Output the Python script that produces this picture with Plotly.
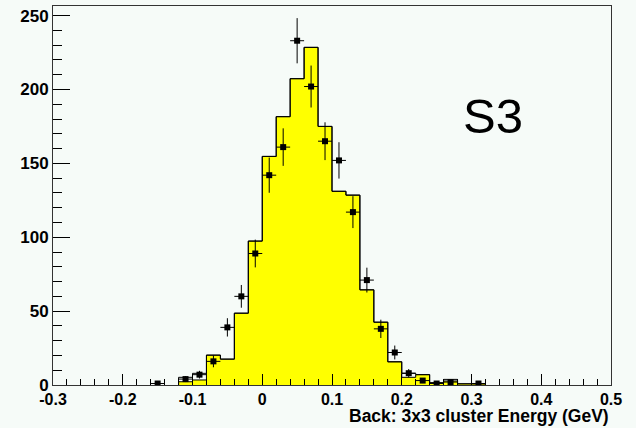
import plotly.graph_objects as go

# ---- data -------------------------------------------------------------
bin_edges = [-0.12, -0.10, -0.08, -0.06, -0.04, -0.02, 0.00, 0.02, 0.04, 0.06, 0.08,
             0.10, 0.12, 0.14, 0.16, 0.18, 0.20, 0.22, 0.24, 0.26, 0.28, 0.30, 0.32]
mc_yellow = [2.2, 3.4, 20.2, 17.5, 48.6, 97.4, 154.7, 181.6, 207.3, 228.5, 175.0,
             131.1, 128.5, 64.4, 42.5, 15.7, 5.2, 7.0, 1.5, 2.7, 0.8, 0.8]
mc_total = [5.2, 7.9, 20.2, 17.5, 48.6, 97.4, 154.7, 181.6, 207.3, 228.5, 175.0,
            131.1, 128.5, 64.4, 42.5, 15.7, 7.9, 7.0, 1.5, 3.8, 0.8, 0.8]

data_x = [-0.15, -0.11, -0.09, -0.07, -0.05, -0.03, -0.01, 0.01, 0.03, 0.05, 0.07,
          0.09, 0.11, 0.13, 0.15, 0.17, 0.19, 0.21, 0.23, 0.25, 0.27, 0.31]
data_y = [1, 4, 7, 16, 39, 60, 89, 142, 161, 233, 202,
          165, 152, 117, 71, 38, 22, 8, 3, 1, 2, 1]
data_err = [1.0, 2.0, 2.6, 4.0, 6.2, 7.7, 9.4, 11.9, 12.7, 15.3, 14.2,
            12.8, 12.3, 10.8, 8.4, 6.2, 4.7, 2.8, 1.7, 1.0, 1.4, 1.0]
half_bin = 0.01

x_tickvals = [-0.3, -0.2, -0.1, 0.0, 0.1, 0.2, 0.3, 0.4, 0.5]
x_ticktext = ["-0.3", "-0.2", "-0.1", "0", "0.1", "0.2", "0.3", "0.4", "0.5"]
y_tickvals = [0, 50, 100, 150, 200, 250]
y_ticktext = ["0", "50", "100", "150", "200", "250"]

x_title = "Back: 3x3 cluster Energy (GeV)"
label = "S3"

# ---- figure -----------------------------------------------------------
BG = "#f6fbf8"
FONT = "Liberation Sans, Arial, Helvetica, sans-serif"

def steps(vals):
    return list(vals) + [vals[-1]]

fig = go.Figure()

# yellow filled histogram
fig.add_trace(go.Scatter(
    x=bin_edges, y=steps(mc_yellow), mode="lines", line_shape="hv",
    fill="tozeroy", fillcolor="#ffff00",
    line=dict(color="black", width=1), hoverinfo="skip", showlegend=False))
fig.add_trace(go.Scatter(
    x=[bin_edges[0], bin_edges[0]], y=[0, mc_yellow[0]], mode="lines",
    line=dict(color="black", width=1), showlegend=False, hoverinfo="skip"))
fig.add_trace(go.Scatter(
    x=[bin_edges[-1], bin_edges[-1]], y=[0, mc_yellow[-1]], mode="lines",
    line=dict(color="black", width=1), showlegend=False, hoverinfo="skip"))

# total outline histogram
fig.add_trace(go.Scatter(
    x=[bin_edges[0]] + bin_edges + [bin_edges[-1]],
    y=[0] + steps(mc_total) + [0], mode="lines", line_shape="hv",
    line=dict(color="black", width=1), hoverinfo="skip", showlegend=False))

# data points
fig.add_trace(go.Scatter(
    x=data_x, y=data_y, mode="markers",
    marker=dict(symbol="square", size=6, color="black"),
    error_y=dict(type="data", array=data_err, visible=True,
                 color="black", thickness=1, width=0),
    error_x=dict(type="constant", value=half_bin, visible=True,
                 color="black", thickness=1, width=0),
    showlegend=False))

xtickfont = dict(family=FONT, size=16, color="black", weight="bold")
ytickfont = dict(family=FONT, size=17, color="black", weight="bold")

fig.update_layout(
    width=636, height=428,
    margin=dict(l=53, r=25, t=6, b=43, autoexpand=False),
    paper_bgcolor=BG, plot_bgcolor=BG,
    xaxis=dict(range=[-0.3, 0.5], tickmode="array",
               tickvals=x_tickvals, ticktext=x_ticktext, tickangle=0,
               ticks="inside", ticklen=11, tickcolor="black", tickwidth=1,
               minor=dict(dtick=0.02, tick0=-0.3, ticks="inside", ticklen=6,
                          tickcolor="black", tickwidth=1),
               showgrid=False, zeroline=False, automargin=False,
               showline=True, linecolor="#333333", linewidth=1, mirror=True,
               tickfont=xtickfont),
    yaxis=dict(range=[0, 256.5], tickmode="array",
               tickvals=y_tickvals, ticktext=y_ticktext,
               ticks="inside", ticklen=17, tickcolor="black", tickwidth=1,
               minor=dict(dtick=10, tick0=0, ticks="inside", ticklen=9,
                          tickcolor="black", tickwidth=1),
               showgrid=False, zeroline=False, automargin=False,
               showline=True, linecolor="#333333", linewidth=1, mirror=True,
               tickfont=ytickfont),
    annotations=[
        dict(text=x_title, xref="paper", yref="paper", x=1.0, y=-0.083,
             xanchor="right", yanchor="middle", showarrow=False,
             font=dict(family=FONT, size=17.5, color="black", weight="bold")),
        dict(text=label, xref="paper", yref="paper", x=0.7885, y=0.710,
             xanchor="center", yanchor="middle", showarrow=False,
             font=dict(family=FONT, size=49, color="black")),
    ],
)

fig.write_html("out.html")
